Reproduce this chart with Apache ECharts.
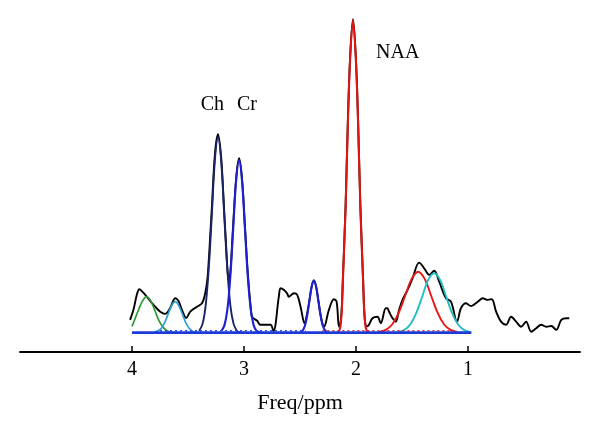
<!DOCTYPE html>
<html>
<head>
<meta charset="utf-8">
<script src="https://cdn.jsdelivr.net/npm/echarts@6/dist/echarts.min.js"></script>
<style>html,body{margin:0;padding:0;background:#fff}#c{width:600px;height:434px}</style>
</head>
<body>
<div id="c"></div>
<script>
// x: chemical shift (ppm), y: intensity (NAA peak = 100)
const xTicks = [1, 2, 3, 4];
const axisTitle = 'Freq/ppm';

const spectrum = [[4.017,4.1],[3.987,7.3],[3.957,12.1],[3.934,13.9],[3.901,12.9],[3.868,11.5],[3.829,9.8],[3.793,8.3],[3.748,6.7],[3.704,6.0],[3.659,7.9],[3.614,11.0],[3.585,10.1],[3.554,7.3],[3.516,4.7],[3.480,6.7],[3.420,8.3],[3.375,9.4],[3.346,12.7],[3.325,17.9],[3.300,32],[3.287,40],[3.260,57],[3.232,63.5],[3.204,56],[3.177,39],[3.160,28],[3.145,19],[3.135,16.5],[3.122,19.5],[3.110,26],[3.096,35],[3.070,49.5],[3.044,55.8],[3.018,49.5],[2.992,34.5],[2.966,19],[2.940,8],[2.927,5],[2.883,3.8],[2.853,2.5],[2.764,2.5],[2.737,0.5],[2.689,11.5],[2.674,14.2],[2.645,13.7],[2.614,12.5],[2.600,11.5],[2.555,12.6],[2.525,12.1],[2.495,8.3],[2.459,3.0],[2.440,5.5],[2.416,10.3],[2.396,14.8],[2.376,16.8],[2.356,14.8],[2.336,10.3],[2.316,5.6],[2.296,2.3],[2.286,1.9],[2.242,7.3],[2.197,10.7],[2.173,9.9],[2.152,1.9],[2.139,3],[2.127,8],[2.117,17.5],[2.093,40.5],[2.072,68.5],[2.052,88.5],[2.027,100.3],[2.002,88.5],[1.982,68.5],[1.961,40.5],[1.937,17.5],[1.927,7.5],[1.915,2.5],[1.900,2.0],[1.884,2.5],[1.853,4.6],[1.808,5.1],[1.779,3.0],[1.734,7.8],[1.719,7.8],[1.705,6.7],[1.674,4.6],[1.660,4.1],[1.645,3.5],[1.615,7.3],[1.585,10.5],[1.555,12.6],[1.525,14.8],[1.495,17.4],[1.436,22.4],[1.391,20.6],[1.346,18.5],[1.302,19.8],[1.257,16.3],[1.197,11.0],[1.152,9.9],[1.098,3.5],[1.063,7.8],[1.018,9.4],[0.973,8.5],[0.913,9.9],[0.868,11.0],[0.824,10.5],[0.788,10.7],[0.749,6.7],[0.705,3.5],[0.660,2.5],[0.615,5.1],[0.570,3.5],[0.526,1.9],[0.481,3.5],[0.436,0.3],[0.391,1.4],[0.346,2.5],[0.302,1.9],[0.257,2.1],[0.212,0.9],[0.167,4.1],[0.122,4.6],[0.096,4.6]];

const fitGreen = [[4.00,2.0],[3.97,4.7],[3.945,7.0],[3.907,10.1],[3.87,11.5],[3.832,10.1],[3.795,7.0],[3.757,3.7],[3.72,1.6],[3.682,0.5],[3.645,0.1],[3.60,0]];
const fitSky = [[3.80,0.1],[3.74,1.3],[3.708,3.2],[3.677,6.0],[3.645,8.7],[3.614,9.9],[3.583,8.7],[3.551,6.0],[3.52,3.2],[3.488,1.3],[3.456,0.4],[3.425,0.1],[3.38,0]];
const fitCh = [[3.40,0.6],[3.37,2.8],[3.343,8.5],[3.315,20.3],[3.287,37.9],[3.26,55.2],[3.232,62.5],[3.204,55.2],[3.177,37.9],[3.149,20.3],[3.121,8.5],[3.093,2.8],[3.065,0.7],[3.04,0.1],[3.0,0]];
const fitCr = [[3.20,0.6],[3.174,2.4],[3.148,7.5],[3.122,17.9],[3.096,33.5],[3.07,48.7],[3.044,55.2],[3.018,48.7],[2.992,33.5],[2.966,17.9],[2.94,7.5],[2.914,2.4],[2.888,0.6],[2.85,0]];
const fitGlx = [[2.50,0],[2.476,0.7],[2.456,2.2],[2.436,5.4],[2.416,10.1],[2.396,14.6],[2.376,16.6],[2.356,14.6],[2.336,10.1],[2.316,5.4],[2.296,2.2],[2.276,0.7],[2.25,0]];
const fitNAA = [[2.170,0],[2.152,0.5],[2.139,2],[2.127,7],[2.117,16.8],[2.093,40],[2.072,68],[2.052,88],[2.027,100],[2.002,88],[1.982,68],[1.961,40],[1.937,16.8],[1.927,7],[1.915,2],[1.902,0.5],[1.884,0]];
const fitLip1 = [[1.793,0.2],[1.735,0.9],[1.677,2.6],[1.619,6.3],[1.561,11.8],[1.503,17.2],[1.445,19.5],[1.387,17.2],[1.329,11.8],[1.271,6.3],[1.213,2.6],[1.155,0.9],[1.097,0.2]];
const fitLip2 = [[1.623,0.2],[1.570,0.8],[1.516,2.6],[1.463,6.2],[1.409,11.5],[1.356,16.8],[1.302,19],[1.248,16.8],[1.195,11.5],[1.141,6.2],[1.088,2.6],[1.034,0.8],[0.981,0.2]];
const fitBaseline = [[4.0,0],[0.97,0]];
const residBlue = [[3.75,0.6],[2.45,0.6]];
const residRed = [[2.30,0.6],[1.10,0.6]];

const peakNames = ['Ch', 'Cr', 'NAA'];
const peakLabelPpm = [3.283, 2.974, 1.627];
const peakLabelVal = [72.8, 72.8, 89.5];

const serif = 'Liberation Serif';
function line(data, color, width, z, extra) {
  return Object.assign({
    type: 'line', data: data, showSymbol: false, symbol: 'none', smooth: 0.35,
    lineStyle: { color: color, width: width }, z: z, silent: true
  }, extra || {});
}

const chart = echarts.init(document.getElementById('c'), null, { renderer: 'canvas' });
chart.setOption({
  animation: false,
  backgroundColor: '#fff',
  grid: { left: 20, right: 20, top: 14, bottom: 82 },
  xAxis: {
    type: 'value', inverse: true, min: 0, max: 5,
    name: axisTitle, nameLocation: 'middle', nameGap: 40,
    nameTextStyle: { fontFamily: serif, fontSize: 22, color: '#000' },
    axisLine: { onZero: false, lineStyle: { color: '#000', width: 2 } },
    axisTick: { inside: true, length: 6, customValues: xTicks, lineStyle: { color: '#000', width: 1.5 } },
    axisLabel: { customValues: xTicks, margin: 8, fontFamily: serif, fontSize: 20, color: '#000' },
    splitLine: { show: false }
  },
  yAxis: { type: 'value', min: -6.2, max: 102, show: false, splitLine: { show: false } },
  series: [
    line(spectrum, '#000000', 1.9, 2),
    line(fitGreen, '#2f9a35', 1.7, 3),
    line(fitSky, '#2e9fd2', 1.7, 3),
    line(fitCh, '#1a2468', 1.9, 4),
    line(fitCr, '#1f1fd4', 2.1, 4),
    line(fitGlx, '#1f1fd4', 2.1, 4),
    line(fitNAA, '#e01414', 2.1, 4),
    line(fitLip1, '#e81818', 1.9, 4),
    line(fitLip2, '#22bcc4', 1.9, 5),
    line(residBlue, '#3050e0', 1.4, 5, { smooth: false, lineStyle: { color: '#3050e0', width: 1.4, type: [2, 3] } }),
    line(residRed, '#e03030', 1.4, 5, { smooth: false, lineStyle: { color: '#e03030', width: 1.4, type: [2, 3] } }),
    line(fitBaseline, '#1c3ad8', 2.6, 6, { smooth: false }),
    {
      type: 'scatter', symbolSize: 0, z: 10, silent: true,
      itemStyle: { opacity: 1, color: 'rgba(0,0,0,0)' },
      data: peakNames.map((n, i) => ({ value: [peakLabelPpm[i], peakLabelVal[i]], name: n })),
      label: { show: true, position: 'inside', formatter: p => p.name, fontFamily: serif, fontSize: 20, color: '#000', opacity: 1 }
    }
  ]
});
</script>
</body>
</html>
